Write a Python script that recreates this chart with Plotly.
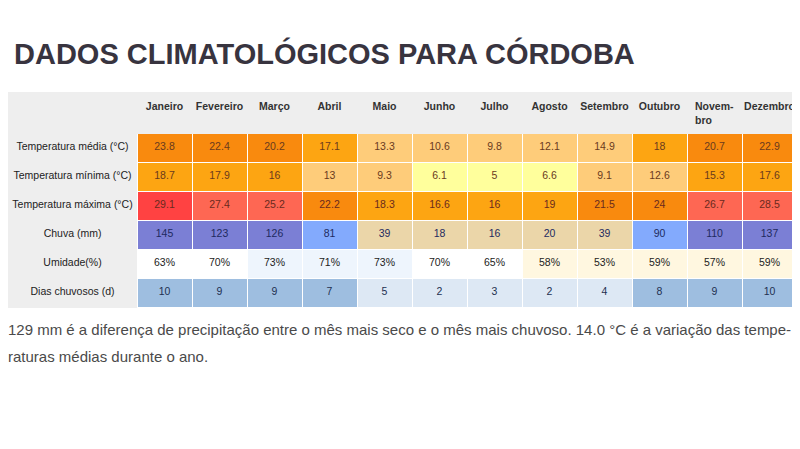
import plotly.graph_objects as go

# ---------------- data ----------------
months = ["Janeiro", "Fevereiro", "Março", "Abril", "Maio", "Junho", "Julho",
          "Agosto", "Setembro", "Outubro", "Novem-<br>bro", "Dezembro"]
row_labels = ["Temperatura média (°C)", "Temperatura mínima (°C)", "Temperatura máxima (°C)",
              "Chuva (mm)", "Umidade(%)", "Dias chuvosos (d)"]
temp_avg = [23.8, 22.4, 20.2, 17.1, 13.3, 10.6, 9.8, 12.1, 14.9, 18, 20.7, 22.9]
temp_min = [18.7, 17.9, 16, 13, 9.3, 6.1, 5, 6.6, 9.1, 12.6, 15.3, 17.6]
temp_max = [29.1, 27.4, 25.2, 22.2, 18.3, 16.6, 16, 19, 21.5, 24, 26.7, 28.5]
rain_mm = [145, 123, 126, 81, 39, 18, 16, 20, 39, 90, 110, 137]
humidity = [63, 70, 73, 71, 73, 70, 65, 58, 53, 59, 57, 59]
rain_days = [10, 9, 9, 7, 5, 2, 3, 2, 4, 8, 9, 10]

title_text = "DADOS CLIMATOLÓGICOS PARA CÓRDOBA"
note_line1 = ("129 mm é a diferença de precipitação entre o mês mais seco e o mês mais chuvoso. "
              "14.0 °C é a variação das tempe-")
note_line2 = "raturas médias durante o ano."


# ---------------- colour classes ----------------
def temp_color(v):
    if v < 8:
        return "#FFFF9C"
    if v < 15:
        return "#FECC7A"
    if v < 20:
        return "#FDA512"
    if v < 25:
        return "#F98A0E"
    if v < 29:
        return "#FE6753"
    return "#FF4242"


def rain_color(v):
    if v < 50:
        return "#EBD6A9"
    if v < 100:
        return "#83AAFD"
    return "#7B7FD5"


def hum_color(v):
    if v < 60:
        return "#FFF7E0"
    if v <= 70:
        return "#FFFFFF"
    return "#EEF5FD"


def days_color(v):
    if v <= 5:
        return "#DDE8F4"
    return "#9EBEE0"


def fmt(v):
    return f"{v:g}"


rows_vals = [
    [fmt(v) for v in temp_avg],
    [fmt(v) for v in temp_min],
    [fmt(v) for v in temp_max],
    [fmt(v) for v in rain_mm],
    [f"{v}%" for v in humidity],
    [fmt(v) for v in rain_days],
]
rows_fill = [
    [temp_color(v) for v in temp_avg],
    [temp_color(v) for v in temp_min],
    [temp_color(v) for v in temp_max],
    [rain_color(v) for v in rain_mm],
    [hum_color(v) for v in humidity],
    [days_color(v) for v in rain_days],
]
row_font_colors = ["#6A3A1E", "#6A3A1E", "#6A2A1E", "#1E2A60", "#222222", "#1E3050"]

GRAY = "#EEEEEE"
NBSP = "\u00a0"
label_cells = [lbl.replace(" ", NBSP) for lbl in row_labels]
col_values = [label_cells] + [[rows_vals[r][c] for r in range(6)] for c in range(12)]
col_fills = [[GRAY] * 6] + [[rows_fill[r][c] for r in range(6)] for c in range(12)]
col_fonts = [["#222222"] * 6] + [row_font_colors for _ in range(12)]
col_lines = [GRAY] + ["#FFFFFF"] * 12

# the page body adds an 8px margin; figure sized to fit the window
OFF = 8
W, H = 800 - OFF, 449 - OFF


def px_x(x):
    return (x - OFF) / W


def px_y(y):
    return 1 - (y - OFF) / H


FONT = "Liberation Sans, Arial, sans-serif"

fig = go.Figure(go.Table(
    domain=dict(x=[px_x(8), px_x(797)], y=[px_y(312), px_y(92)]),
    columnwidth=[129] + [55] * 12,
    header=dict(
        values=[""] + [f"<b>{m}</b>" for m in months],
        fill_color=GRAY,
        line=dict(color=GRAY, width=1),
        align="center",
        font=dict(family=FONT, size=10.5, color="#333333"),
        height=33,
    ),
    cells=dict(
        values=col_values,
        fill_color=col_fills,
        line=dict(color=col_lines, width=1),
        align="center",
        font=dict(family=FONT, size=10.5, color=col_fonts),
        height=29,
    ),
))

fig.add_annotation(
    text=f"<b>{title_text}</b>", xref="paper", yref="paper",
    x=px_x(12), y=px_y(53), xanchor="left", yanchor="middle", showarrow=False,
    font=dict(family=FONT, size=29, color="#38343F"),
)
fig.add_annotation(
    text=note_line1, xref="paper", yref="paper",
    x=px_x(6), y=px_y(329), xanchor="left", yanchor="middle", showarrow=False,
    font=dict(family=FONT, size=15, color="#4A4A4A"),
)
fig.add_annotation(
    text=note_line2, xref="paper", yref="paper",
    x=px_x(6), y=px_y(356), xanchor="left", yanchor="middle", showarrow=False,
    font=dict(family=FONT, size=15, color="#4A4A4A"),
)

fig.update_layout(
    width=W, height=H,
    margin=dict(l=0, r=0, t=0, b=0),
    paper_bgcolor="white", plot_bgcolor="white",
)

fig.write_html("out.html")
